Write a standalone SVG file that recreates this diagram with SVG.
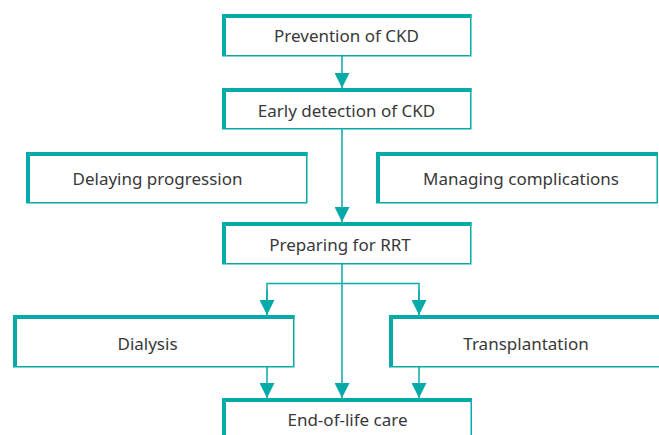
<svg xmlns="http://www.w3.org/2000/svg" width="659" height="435" viewBox="0 0 659 435">
<style>
.box{fill:#fff;stroke:#06aaa8;stroke-width:1.5}
.edge{fill:none;stroke:#06aaa8;stroke-width:4;stroke-linejoin:miter;stroke-linecap:butt}
.lbl{font-family:"Noto Sans","Open Sans","Liberation Sans",sans-serif;font-size:17px;fill:#383838;text-anchor:middle}
.con{fill:none;stroke:#06aaa8;stroke-width:1.5}
</style>
<defs>
<marker id="ah" markerUnits="userSpaceOnUse" markerWidth="15" markerHeight="15" viewBox="0 0 15 15" refX="15" refY="7.5" orient="auto">
<path d="M0,0 L15,7.5 L0,15 Z" fill="#06aaa8"/>
</marker>
</defs>
<rect width="659" height="435" fill="#fff"/>
<g id="connectors">
<path class="con" d="M342,56 V88" marker-end="url(#ah)"/>
<path class="con" d="M342,129 V222" marker-end="url(#ah)"/>
<path class="con" d="M342,264 V398" marker-end="url(#ah)"/>
<path class="con" d="M267,315 V283.5 H419 V315" />
<path class="con" d="M267,290 V315" marker-end="url(#ah)"/>
<path class="con" d="M419,290 V315" marker-end="url(#ah)"/>
<path class="con" d="M267,367 V398" marker-end="url(#ah)"/>
<path class="con" d="M419,367 V398" marker-end="url(#ah)"/>
</g>
<g id="prevention">
<rect class="box" x="222.75" y="14.75" width="248" height="41"/>
<path class="edge" d="M224,56 V16 H471.5"/>
<text class="lbl" x="346.5" y="41.5">Prevention of CKD</text>
</g>
<g id="early-detection">
<rect class="box" x="222.75" y="88.75" width="248" height="40"/>
<path class="edge" d="M224,129 V90 H471.5"/>
<text class="lbl" x="346.5" y="116.5">Early detection of CKD</text>
</g>
<g id="delaying">
<rect class="box" x="26.75" y="152.75" width="280" height="50"/>
<path class="edge" d="M28,203 V154 H307.5"/>
<text class="lbl" x="157.5" y="184.5">Delaying progression</text>
</g>
<g id="managing">
<rect class="box" x="376.75" y="152.75" width="280.5" height="50"/>
<path class="edge" d="M378,203 V154 H658"/>
<text class="lbl" x="521" y="184.5">Managing complications</text>
</g>
<g id="preparing">
<rect class="box" x="222.75" y="222.75" width="248" height="41"/>
<path class="edge" d="M224,264 V224 H471.5"/>
<text class="lbl" x="340" y="251">Preparing for RRT</text>
</g>
<g id="dialysis">
<rect class="box" x="13.75" y="315.75" width="280" height="51"/>
<path class="edge" d="M15,367 V317 H294.5"/>
<text class="lbl" x="147.5" y="349.5">Dialysis</text>
</g>
<g id="transplantation">
<rect class="box" x="389.75" y="315.75" width="280" height="51"/>
<path class="edge" d="M391,367 V317 H670"/>
<text class="lbl" x="526" y="349.5">Transplantation</text>
</g>
<g id="end-of-life">
<rect class="box" x="222.75" y="398.75" width="248.5" height="50"/>
<path class="edge" d="M224,449 V400 H472"/>
<text class="lbl" x="347.5" y="426">End-of-life care</text>
</g>
</svg>
